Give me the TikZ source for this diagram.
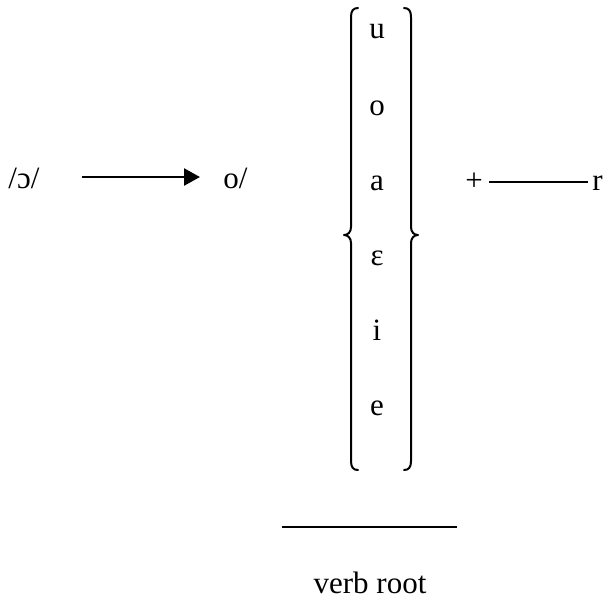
\documentclass[tikz,border=0pt]{standalone}
\usepackage{fontspec}
\setmainfont{Liberation Serif}
\usetikzlibrary{arrows.meta}
\begin{document}
\begin{tikzpicture}[x=0.5pt,y=-0.5pt,
  txt/.style={inner sep=0pt,anchor=base,font=\fontsize{15.5}{18}\selectfont},
  bracepath/.style={line width=1pt,line cap=round,line join=round},
  rule/.style={line width=0.6pt}]
\useasboundingbox (0,0) rectangle (608,602);

% rule: /ɔ/ -> o/
\node[txt,anchor=base west] (src) at (8,188) {/ɔ/};
\node[txt,anchor=base west] (tgt) at (223,188) {o/};
\coordinate (a1) at (82,177);
\coordinate (a2) at (200,177);
\draw[line width=1.2pt,-{Triangle[length=8pt,width=8.5pt]}] (a1) -- (a2);

% vowel set
\node[txt] (vu) at (377,38) {u};
\node[txt] (vo) at (377,115) {o};
\node[txt] (va) at (377,190) {a};
\node[txt] (ve) at (377,265) {ε};
\node[txt] (vi) at (377,340) {i};
\node[txt] (vee) at (377,415) {e};

% left brace
\draw[bracepath] (358,8) .. controls (353,8) and (351,11) .. (351,17)
  -- (351,227) .. controls (351,232) and (348,235) .. (344,235)
  .. controls (348,235) and (351,238) .. (351,243)
  -- (351,461) .. controls (351,467) and (353,470) .. (358,470);
% right brace
\draw[bracepath] (404,8) .. controls (409,8) and (411,11) .. (411,17)
  -- (411,227) .. controls (411,232) and (414,235) .. (418,235)
  .. controls (414,235) and (411,238) .. (411,243)
  -- (411,461) .. controls (411,467) and (409,470) .. (404,470);

% + ___ r
\node[txt] (plus) at (474,190) {+};
\node[txt,anchor=base west] (rr) at (592,190) {r};
\coordinate (b1) at (489,182);
\coordinate (b2) at (588,182);
\draw[rule] (b1) -- (b2);

% verb root underline
\coordinate (c1) at (282,527);
\coordinate (c2) at (457,527);
\draw[rule] (c1) -- (c2);
\node[txt] (root) at (370,593) {verb root};
\end{tikzpicture}
\end{document}
